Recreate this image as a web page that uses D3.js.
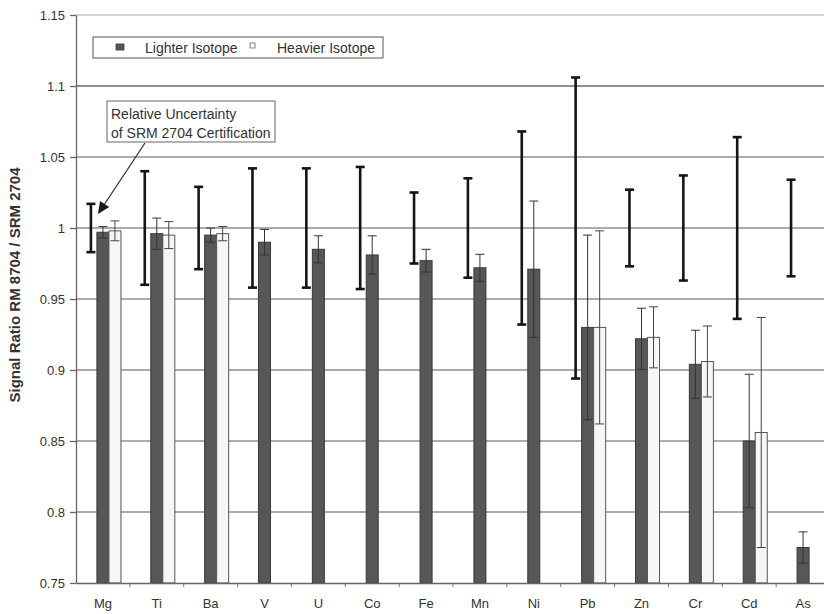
<!DOCTYPE html>
<html>
<head>
<meta charset="utf-8">
<script src="https://cdn.jsdelivr.net/npm/d3@7"></script>
<style>
  html, body { margin: 0; padding: 0; background: #fff; }
  svg { display: block; font-family: "Liberation Sans", Arial, sans-serif; }
</style>
</head>
<body>
<svg id="chart" width="824" height="614"></svg>
<script>
// ---- Data ----
const categories = ["Mg","Ti","Ba","V","U","Co","Fe","Mn","Ni","Pb","Zn","Cr","Cd","As"];
// Relative uncertainty of SRM 2704 certification (about 1.0)
const certUncertainty = [0.017,0.040,0.029,0.042,0.042,0.043,0.025,0.035,0.068,0.106,0.027,0.037,0.064,0.034];
const lighterIsotope = [0.997,0.996,0.995,0.990,0.985,0.981,0.977,0.972,0.971,0.930,0.922,0.904,0.850,0.775];
const lighterError   = [0.004,0.011,0.005,0.009,0.0095,0.0135,0.008,0.0095,0.048,0.065,0.0215,0.024,0.047,0.011];
const heavierIsotope = [0.998,0.995,0.996,null,null,null,null,null,null,0.930,0.923,0.906,0.856,null];
const heavierError   = [0.007,0.0095,0.005,null,null,null,null,null,null,0.068,0.0215,0.025,0.081,null];
const yTicks = [0.75,0.8,0.85,0.9,0.95,1,1.05,1.1,1.15];
const yTickLabels = ["0.75","0.8","0.85","0.9","0.95","1","1.05","1.1","1.15"];
const seriesNames = ["Lighter Isotope","Heavier Isotope"];
const annotationLines = ["Relative Uncertainty","of SRM 2704 Certification"];
const yTitle = "Signal Ratio RM 8704 / SRM 2704";

// ---- Layout ----
const svg = d3.select("#chart");
const mLeft = 76, mRight = 830, mTop = 15, mBottom = 583;

const x0 = d3.scaleBand().domain(categories).range([mLeft, mRight]).padding(0);
const x1 = d3.scaleBand().domain(["cert","light","heavy"]).range([0, x0.bandwidth()])
  .paddingInner(0).paddingOuter(0.74);
const y = d3.scaleLinear().domain([0.75, 1.15]).range([mBottom, mTop]);

// gridlines
svg.append("g").selectAll("line").data(yTicks.filter(v => v > 0.75)).join("line")
  .attr("x1", mLeft).attr("x2", mRight)
  .attr("y1", d => y(d)).attr("y2", d => y(d))
  .attr("stroke", d => d === 1.15 ? "#c4c4c4" : "#909090")
  .attr("stroke-width", d => d === 1.1 ? 2 : 1.5);

// bars
const rows = categories.map((c, i) => ({
  c, cert: certUncertainty[i], l: lighterIsotope[i], le: lighterError[i],
  h: heavierIsotope[i], he: heavierError[i]
}));

const gBars = svg.append("g");
gBars.selectAll("rect.light").data(rows).join("rect")
  .attr("class", "light")
  .attr("x", d => x0(d.c) + x1("light"))
  .attr("width", x1.bandwidth())
  .attr("y", d => y(d.l))
  .attr("height", d => y(0.75) - y(d.l))
  .attr("fill", "#575757").attr("stroke", "#3a3a3a").attr("stroke-width", 1);

gBars.selectAll("rect.heavy").data(rows.filter(d => d.h != null)).join("rect")
  .attr("class", "heavy")
  .attr("x", d => x0(d.c) + x1("heavy"))
  .attr("width", x1.bandwidth())
  .attr("y", d => y(d.h))
  .attr("height", d => y(0.75) - y(d.h))
  .attr("fill", "#f6f6f6").attr("stroke", "#555").attr("stroke-width", 1);

// error bar helper
function errorBars(sel, data, xf, vf, ef, cap, color, width) {
  const g = sel.append("g");
  const items = g.selectAll("g").data(data).join("g");
  items.append("line")
    .attr("x1", xf).attr("x2", xf)
    .attr("y1", d => y(vf(d) + ef(d))).attr("y2", d => y(vf(d) - ef(d)))
    .attr("stroke", color).attr("stroke-width", width);
  [1, -1].forEach(s => {
    items.append("line")
      .attr("x1", d => xf(d) - cap / 2).attr("x2", d => xf(d) + cap / 2)
      .attr("y1", d => y(vf(d) + s * ef(d))).attr("y2", d => y(vf(d) + s * ef(d)))
      .attr("stroke", color).attr("stroke-width", width);
  });
}

const half = x1.bandwidth() / 2;
errorBars(svg, rows, d => x0(d.c) + x1("light") + half, d => d.l, d => d.le, 9, "#333", 1);
errorBars(svg, rows.filter(d => d.h != null), d => x0(d.c) + x1("heavy") + half, d => d.h, d => d.he, 9, "#444", 1);
errorBars(svg, rows, d => x0(d.c) + x1("cert") + half, d => 1, d => d.cert, 9, "#151515", 2.6);

// axes
const yAxis = d3.axisLeft(y).tickValues(yTicks).tickSize(6).tickSizeOuter(0)
  .tickFormat((d, i) => yTickLabels[i]);
const gy = svg.append("g").attr("transform", `translate(${mLeft},0)`).call(yAxis);
gy.select(".domain").attr("stroke", "#666").attr("stroke-width", 1.3);
gy.selectAll(".tick line").attr("stroke", "#666").attr("stroke-width", 1.3);
gy.selectAll(".tick text").attr("x", -11).attr("font-size", "13px")
  .attr("fill", "#333").attr("font-family", "Liberation Sans, Arial, sans-serif");

const xAxis = d3.axisBottom(x0).tickSize(0).tickSizeOuter(0);
const gx = svg.append("g").attr("transform", `translate(0,${mBottom})`).call(xAxis);
gx.select(".domain").attr("stroke", "#666").attr("stroke-width", 1.3);
gx.selectAll(".tick text").attr("y", 16).attr("font-size", "13px")
  .attr("fill", "#333").attr("font-family", "Liberation Sans, Arial, sans-serif");
// category boundary ticks
svg.append("g").selectAll("line").data(categories.slice(1)).join("line")
  .attr("x1", d => x0(d)).attr("x2", d => x0(d))
  .attr("y1", mBottom).attr("y2", mBottom + 4)
  .attr("stroke", "#777").attr("stroke-width", 1);

// y title
svg.append("text")
  .attr("transform", `translate(20,${(mTop + mBottom) / 2 - 14}) rotate(-90)`)
  .attr("text-anchor", "middle")
  .attr("font-size", "15px").attr("font-weight", "bold").attr("fill", "#333")
  .text(yTitle);

// legend
const lg = svg.append("g");
lg.append("rect").attr("x", 93).attr("y", 37).attr("width", 290).attr("height", 21)
  .attr("fill", "#fff").attr("stroke", "#555").attr("stroke-width", 1);
lg.append("rect").attr("x", 116).attr("y", 44).attr("width", 8).attr("height", 6)
  .attr("fill", "#575757").attr("stroke", "#333").attr("stroke-width", 0.8);
lg.append("text").attr("x", 145).attr("y", 52.5).attr("font-size", "14px").attr("fill", "#333")
  .text(seriesNames[0]);
lg.append("rect").attr("x", 250).attr("y", 43).attr("width", 5).attr("height", 5)
  .attr("fill", "#fff").attr("stroke", "#666").attr("stroke-width", 0.8);
lg.append("text").attr("x", 277).attr("y", 52.5).attr("font-size", "14px").attr("fill", "#333")
  .text(seriesNames[1]);

// annotation
const ag = svg.append("g");
ag.append("rect").attr("x", 107).attr("y", 101).attr("width", 168).attr("height", 41)
  .attr("fill", "#fff").attr("stroke", "#666").attr("stroke-width", 1);
ag.selectAll("text").data(annotationLines).join("text")
  .attr("x", 111).attr("y", (d, i) => 119 + i * 18.5)
  .attr("font-size", "14px").attr("fill", "#333").text(d => d);

// arrow (explicit head)
const a0 = [145, 143], a1 = [98, 214];
const dx = a1[0] - a0[0], dy = a1[1] - a0[1], len = Math.hypot(dx, dy);
const ux = dx / len, uy = dy / len, headL = 12, headW = 5.5;
const bx = a1[0] - headL * ux, by = a1[1] - headL * uy;
svg.append("line").attr("x1", a0[0]).attr("y1", a0[1]).attr("x2", bx).attr("y2", by)
  .attr("stroke", "#333").attr("stroke-width", 1.3);
svg.append("path")
  .attr("d", `M${a1[0]},${a1[1]} L${bx - headW * uy},${by + headW * ux} L${bx + headW * uy},${by - headW * ux} Z`)
  .attr("fill", "#1a1a1a");
</script>
</body>
</html>
